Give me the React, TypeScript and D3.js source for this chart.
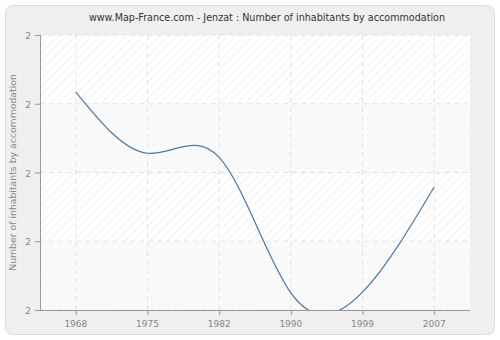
import React from "react";
import * as d3 from "d3";

const years = ["1968", "1975", "1982", "1990", "1999", "2007"];
const values = [2.317, 2.228, 2.222, 2.025, 2.026, 2.179];
const yTicks = [2.0, 2.1, 2.2, 2.3, 2.4];
const title = "www.Map-France.com - Jenzat : Number of inhabitants by accommodation";
const yTitle = "Number of inhabitants by accommodation";

export default function App() {
  const W = 500, H = 340;
  const left = 40, right = 470, top = 35, bottom = 310;
  const x = d3.scalePoint<string>().domain(years).range([left, right]).padding(0.5);
  const y = d3.scaleLinear().domain([2.0, 2.4]).range([bottom, top]);
  const line = d3
    .line<number>()
    .x((_, i) => x(years[i]) as number)
    .y((d) => y(d))
    .curve(d3.curveNatural);
  const fmt = d3.format(".0f");
  const font = "DejaVu Sans, Verdana, sans-serif";
  return (
    <svg width={W} height={H} style={{ position: "absolute", left: 0, top: 0 }}>
      <defs>
        <pattern id="hatch" width="6" height="6" patternUnits="userSpaceOnUse" patternTransform="rotate(45)">
          <rect width="6" height="6" fill="#ffffff" />
          <line x1="0" y1="0" x2="0" y2="6" stroke="#efefef" strokeWidth="1.5" />
        </pattern>
        <clipPath id="plotclip">
          <rect x={left} y={top} width={right - left} height={bottom - top} />
        </clipPath>
      </defs>
      <rect x={5.5} y={5.5} width={489} height={329} rx={7} fill="#efefef" stroke="#dcdcdc" />
      <text x={267} y={21} textAnchor="middle" fontFamily={font} fontSize={9.6} fill="#333">
        {title}
      </text>
      <rect x={left} y={top} width={right - left} height={bottom - top} fill="url(#hatch)" />
      {yTicks.slice(0, -1).map((t, i) =>
        i % 2 === 0 ? (
          <rect key={"b" + i} x={left} y={y(yTicks[i + 1])} width={right - left}
            height={y(t) - y(yTicks[i + 1])} fill="#f8f8f8" opacity={0.75} />
        ) : null
      )}
      {yTicks.map((t, i) => (
        <line key={"gy" + i} x1={left} x2={right} y1={y(t)} y2={y(t)} stroke="#e2e2e2" strokeDasharray="5,4" />
      ))}
      {years.map((yr) => (
        <line key={"gx" + yr} x1={x(yr)} x2={x(yr)} y1={top} y2={bottom} stroke="#e2e2e2" strokeDasharray="5,4" />
      ))}
      <path d={line(values) || ""} fill="none" stroke="#4a77a8" strokeWidth={1.2} clipPath="url(#plotclip)" />
      <line x1={left + 0.5} x2={left + 0.5} y1={top} y2={bottom} stroke="#999" />
      <line x1={left} x2={right} y1={bottom + 0.5} y2={bottom + 0.5} stroke="#999" />
      {yTicks.map((t, i) => (
        <g key={"ty" + i}>
          <line x1={left - 5} x2={left} y1={y(t) + 0.5} y2={y(t) + 0.5} stroke="#999" />
          <text x={left - 9} y={y(t) + 4} textAnchor="end" fontFamily={font} fontSize={9} fill="#888">
            {fmt(t)}
          </text>
        </g>
      ))}
      {years.map((yr) => (
        <g key={"tx" + yr}>
          <line x1={(x(yr) as number) + 0.5} x2={(x(yr) as number) + 0.5} y1={bottom} y2={bottom + 5} stroke="#999" />
          <text x={x(yr)} y={bottom + 17} textAnchor="middle" fontFamily={font} fontSize={9} fill="#888">
            {yr}
          </text>
        </g>
      ))}
      <text transform={`translate(16,${(top + bottom) / 2}) rotate(-90)`} textAnchor="middle"
        fontFamily={font} fontSize={9.3} fill="#888">
        {yTitle}
      </text>
    </svg>
  );
}
